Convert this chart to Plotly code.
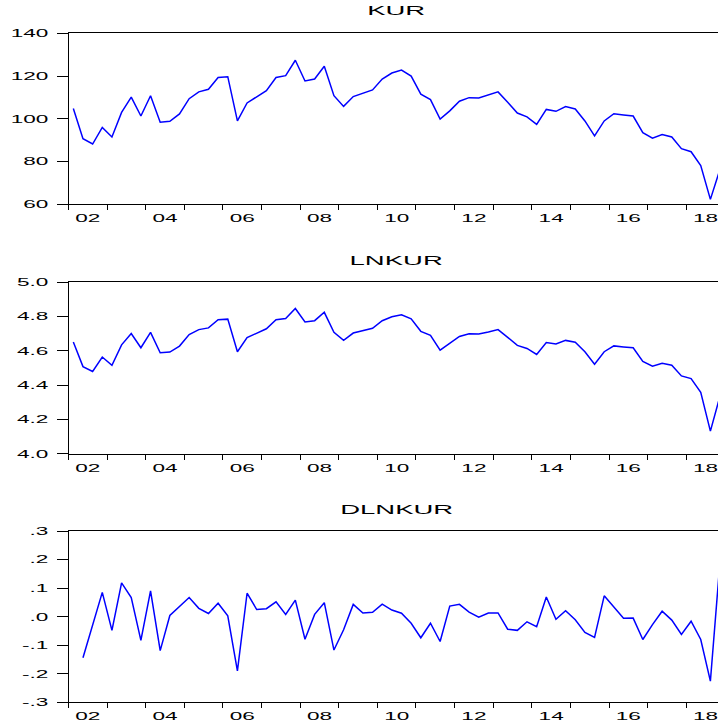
import plotly.graph_objects as go

# ---- data (quarterly, 2002Q1 .. 2018Q4) ----
years = list(range(2002, 2019))
quarters = [f"{y}Q{q}" for y in years for q in (1, 2, 3, 4)]

kur = [104.8, 90.7, 88.2, 96.0, 91.5, 103.0, 110.1, 101.3, 110.8, 98.4,
       98.8, 102.3, 109.4, 112.6, 113.8, 119.3, 119.7, 99.0, 107.4, 110.1,
       113.2, 119.3, 120.2, 127.4, 117.7, 118.6, 124.6, 110.8, 105.8, 110.4,
       111.8, 113.5, 118.6, 121.4, 122.8, 120.0, 111.5, 109.0, 99.9, 103.7,
       108.2, 109.9, 109.7, 111.1, 112.6, 107.7, 102.7, 100.9, 97.4, 104.4,
       103.5, 105.7, 104.6, 99.0, 92.0, 99.0, 102.4, 101.8, 101.3, 93.5,
       90.9, 92.6, 91.5, 86.0, 84.6, 78.1, 62.3, 76.5]

lnkur = [4.652, 4.508, 4.480, 4.564, 4.516, 4.635, 4.701, 4.618, 4.708, 4.589,
         4.593, 4.628, 4.695, 4.724, 4.734, 4.782, 4.785, 4.595, 4.677, 4.701,
         4.729, 4.782, 4.789, 4.847, 4.768, 4.776, 4.825, 4.708, 4.662, 4.704,
         4.717, 4.732, 4.776, 4.799, 4.811, 4.787, 4.714, 4.691, 4.604, 4.642,
         4.684, 4.700, 4.698, 4.710, 4.724, 4.679, 4.632, 4.614, 4.579, 4.648,
         4.640, 4.661, 4.650, 4.595, 4.522, 4.595, 4.629, 4.623, 4.618, 4.538,
         4.510, 4.528, 4.516, 4.454, 4.438, 4.358, 4.132, 4.337]

dlnkur = [None, -0.144, -0.028, 0.085, -0.048, 0.118, 0.067, -0.083, 0.090, -0.119,
          0.004, 0.035, 0.067, 0.029, 0.011, 0.047, 0.003, -0.190, 0.082, 0.025,
          0.028, 0.052, 0.008, 0.058, -0.079, 0.008, 0.049, -0.117, -0.046, 0.043,
          0.013, 0.015, 0.044, 0.023, 0.012, -0.023, -0.074, -0.023, -0.087, 0.037,
          0.043, 0.016, -0.002, 0.013, 0.013, -0.044, -0.048, -0.018, -0.035, 0.069,
          -0.009, 0.021, -0.011, -0.055, -0.073, 0.073, 0.034, -0.006, -0.005, -0.080,
          -0.028, 0.019, -0.012, -0.062, -0.016, -0.080, -0.226, 0.195]

titles = ["KUR", "LNKUR", "DLNKUR"]
x_label_years = [2002, 2004, 2006, 2008, 2010, 2012, 2014, 2016, 2018]
x_labels = ["02", "04", "06", "08", "10", "12", "14", "16", "18"]

y_ticks_1 = [60, 80, 100, 120, 140]
y_ticks_2 = [4.0, 4.2, 4.4, 4.6, 4.8, 5.0]
y_tick_text_2 = ["4.0", "4.2", "4.4", "4.6", "4.8", "5.0"]
y_ticks_3 = [-0.3, -0.2, -0.1, 0.0, 0.1, 0.2, 0.3]
y_tick_text_3 = ["-.3", "-.2", "-.1", ".0", ".1", ".2", ".3"]

# position of each quarter on a fractional-year scale (quarter midpoints)
xq = [int(p[:4]) + (int(p[-1]) - 0.5) / 4 for p in quarters]

W, H = 718, 723
FONT = "Liberation Sans, Arial, sans-serif"
BLUE = "#0000ff"

fig = go.Figure()
series = [kur, lnkur, dlnkur]
for i, s in enumerate(series):
    sfx = "" if i == 0 else str(i + 1)
    fig.add_trace(go.Scatter(x=xq, y=s, mode="lines",
                             line=dict(color=BLUE, width=1.5),
                             xaxis="x" + sfx, yaxis="y" + sfx,
                             showlegend=False, hoverinfo="skip"))

# pixel geometry of the three panels (top, bottom)
panels = [(33.3, 204.3), (282.3, 453.7), (531.0, 702.3)]
left_px = 68.5
year_px = 38.61
x_range = [2002, 2002 + (W - left_px) / year_px]

xaxis_common = dict(
    range=x_range, showline=True, linecolor="black", linewidth=1, mirror=True,
    showgrid=False, zeroline=False, automargin=False,
    tickmode="array", tickvals=[y + 0.5 for y in x_label_years], ticktext=x_labels,
    ticks="outside", ticklen=4, tickcolor="rgba(0,0,0,0)",
    tickfont=dict(family=FONT, size=11, color="black"),
    minor=dict(tickmode="array", tickvals=years, ticks="outside", ticklen=5,
               tickcolor="black", tickwidth=1, showgrid=False),
    domain=[left_px / W, 1.0], fixedrange=True,
)
yranges = [[60, 140], [4.0, 5.0], [-0.3, 0.3]]
ytickvals = [y_ticks_1, y_ticks_2, y_ticks_3]
yticktext = [[str(v) for v in y_ticks_1], y_tick_text_2, y_tick_text_3]

layout = dict(width=W, height=H, margin=dict(l=0, r=0, t=0, b=0, pad=0),
              template="none", autosize=False,
              plot_bgcolor="white", paper_bgcolor="white", showlegend=False)
for i in range(3):
    sfx = "" if i == 0 else str(i + 1)
    top, bot = panels[i]
    xa = dict(xaxis_common)
    xa["anchor"] = "y" + sfx
    layout["xaxis" + sfx] = xa
    layout["yaxis" + sfx] = dict(
        range=yranges[i], domain=[1 - bot / H, 1 - top / H], anchor="x" + sfx,
        showline=True, linecolor="black", linewidth=1, mirror=False,
        showgrid=False, zeroline=False, automargin=False,
        tickmode="array", tickvals=ytickvals[i], ticktext=yticktext[i],
        ticks="outside", ticklen=11, tickcolor="black", tickwidth=1,
        ticklabelstandoff=6,
        tickfont=dict(family=FONT, size=11, color="black"), fixedrange=True,
    )

fig.update_layout(**layout)

title_y = [11.3, 260.5, 509.5]
for t, ty in zip(titles, title_y):
    fig.add_annotation(text=t, xref="paper", yref="paper", x=396 / W, y=1 - ty / H,
                       xanchor="center", yanchor="middle", showarrow=False,
                       font=dict(family=FONT, size=12.5, color="black"))

# page reset (no body margin) and the wide, horizontally stretched lettering
post = """
document.documentElement.style.margin='0';
document.documentElement.style.overflow='hidden';
document.body.style.margin='0';
document.body.style.overflow='hidden';
var gd = document.getElementById('{plot_id}');
function stretchText(){
  var sel = gd.querySelectorAll('.xaxislayer-above text, .yaxislayer-above text, .annotation-text');
  sel.forEach(function(t){
    var tr = t.getAttribute('transform') || '';
    if (tr.indexOf('scale(') >= 0) return;
    var x = parseFloat(t.getAttribute('x') || '0');
    var s = t.classList.contains('annotation-text') ? 2.2 : 2.05;
    t.setAttribute('transform', tr + ' translate(' + x + ',0) scale(' + s + ',1) translate(' + (-x) + ',0)');
  });
}
stretchText();
gd.on('plotly_afterplot', stretchText);
"""

fig.write_html("out.html", config={"displayModeBar": False, "staticPlot": True},
               post_script=post)
